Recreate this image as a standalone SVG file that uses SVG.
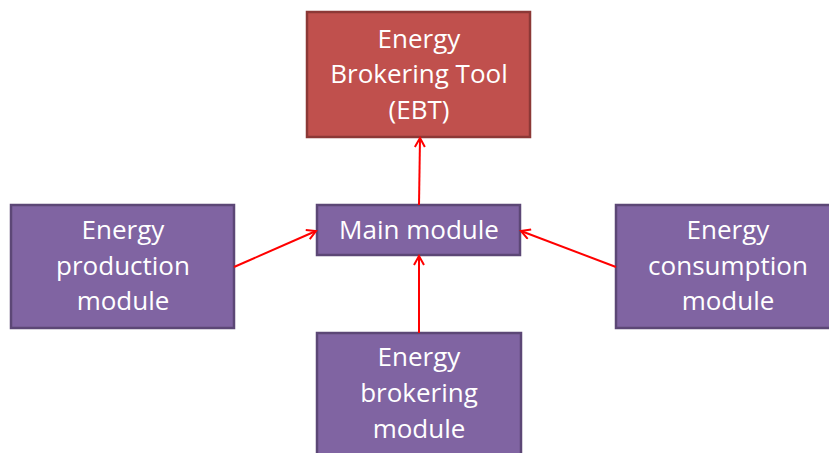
<svg xmlns="http://www.w3.org/2000/svg" width="829" height="453" viewBox="0 0 829 453">
<defs>
<marker id="ah" markerWidth="12" markerHeight="12" refX="10" refY="6" orient="auto" markerUnits="userSpaceOnUse">
<path d="M1,1 L10,6 L1,11" fill="none" stroke="#FF0000" stroke-width="2"/>
</marker>
</defs>
<style>
.p{fill:#8064A2;stroke:#5C4776;stroke-width:2.5}
.r{fill:#C0504D;stroke:#8C3836;stroke-width:2.5}
text{font-family:"Open Sans","Liberation Sans",sans-serif;font-size:26px;fill:#FFFFFF;text-anchor:middle;dominant-baseline:central}
.c line{stroke:#FF0000;stroke-width:2;marker-end:url(#ah)}
</style>
<rect width="829" height="453" fill="#FFFFFF"/>
<g id="ebt">
<rect class="r" x="307" y="12" width="223" height="125"/>
<text x="419" y="38">Energy</text>
<text x="419" y="73">Brokering Tool</text>
<text x="419" y="109">(EBT)</text>
</g>
<g id="main">
<rect class="p" x="317" y="205" width="203" height="50"/>
<text x="419" y="229">Main module</text>
</g>
<g id="production">
<rect class="p" x="11" y="205" width="223" height="123"/>
<text x="123" y="229">Energy</text>
<text x="123" y="265">production</text>
<text x="123" y="300">module</text>
</g>
<g id="consumption">
<rect class="p" x="616" y="205" width="223" height="123"/>
<text x="728" y="229">Energy</text>
<text x="728" y="265">consumption</text>
<text x="728" y="300">module</text>
</g>
<g id="brokering">
<rect class="p" x="317" y="333" width="204" height="130"/>
<text x="419" y="356">Energy</text>
<text x="419" y="392">brokering</text>
<text x="419" y="428">module</text>
</g>
<g class="c" id="connectors">
<line x1="419" y1="205" x2="420" y2="138"/>
<line x1="234" y1="267" x2="316" y2="231"/>
<line x1="616" y1="267" x2="521" y2="231"/>
<line x1="419" y1="333" x2="419" y2="256"/>
</g>
</svg>
